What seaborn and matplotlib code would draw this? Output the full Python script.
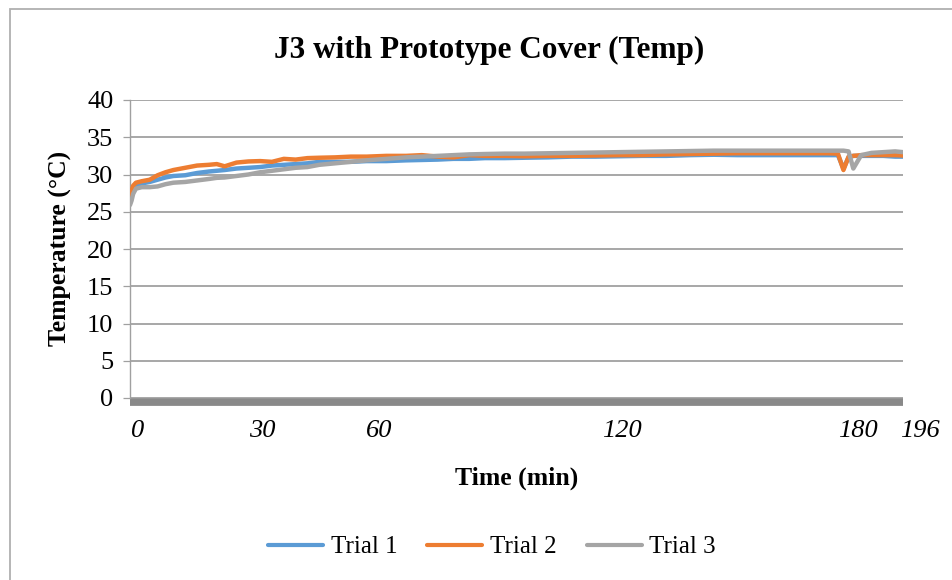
import matplotlib
matplotlib.use("Agg")
import matplotlib.pyplot as plt
import matplotlib.transforms as mtransforms
from matplotlib.patches import Rectangle
from matplotlib.lines import Line2D
import seaborn as sns
import pandas as pd

# ---------------- data ----------------
time_min = [0, 0.4, 0.8, 1.5, 3, 5, 7, 9, 11, 14, 17, 20, 22, 24, 27, 30, 33, 36, 39,
            42, 45, 48, 52, 56, 60, 65, 70, 74, 78, 82, 86, 90, 95, 100, 106, 112, 118,
            124, 130, 136, 142, 148, 154, 160, 166, 172, 177, 179.5, 180.9, 182.2, 183.4,
            185.4, 188, 191, 194, 196]

trial1 = [26.8, 27.2, 28.0, 28.6, 28.8, 29.0, 29.3, 29.6, 29.8, 29.9, 30.2, 30.4, 30.5,
          30.6, 30.8, 30.9, 31.0, 31.2, 31.3, 31.4, 31.5, 31.7, 31.7, 31.7, 31.8, 31.8,
          31.9, 31.95, 32.0, 32.1, 32.1, 32.2, 32.2, 32.25, 32.3, 32.4, 32.4, 32.45, 32.5,
          32.5, 32.6, 32.65, 32.6, 32.6, 32.6, 32.6, 32.6, 32.6, 30.8, 32.3, 32.5, 32.5,
          32.5, 32.5, 32.4, 32.4]

trial2 = [27.3, 27.8, 28.5, 28.9, 29.1, 29.3, 29.9, 30.3, 30.6, 30.9, 31.2, 31.3, 31.4,
          31.1, 31.6, 31.75, 31.8, 31.7, 32.1, 32.0, 32.2, 32.25, 32.3, 32.4, 32.4, 32.5,
          32.5, 32.6, 32.4, 32.3, 32.6, 32.5, 32.5, 32.45, 32.5, 32.5, 32.55, 32.6, 32.6,
          32.7, 32.75, 32.8, 32.85, 32.85, 32.85, 32.85, 32.85, 32.8, 30.6, 32.4, 32.5,
          32.6, 32.6, 32.6, 32.6, 32.55]

trial3 = [25.9, 26.5, 27.4, 28.1, 28.3, 28.3, 28.4, 28.7, 28.9, 29.0, 29.2, 29.4, 29.55,
          29.6, 29.8, 30.0, 30.3, 30.5, 30.7, 30.9, 31.0, 31.3, 31.5, 31.7, 31.9, 32.1,
          32.3, 32.4, 32.5, 32.6, 32.7, 32.75, 32.8, 32.8, 32.85, 32.9, 32.95, 33.0, 33.05,
          33.1, 33.15, 33.2, 33.2, 33.2, 33.2, 33.2, 33.2, 33.2, 33.2, 33.1, 30.8, 32.6,
          32.9, 33.0, 33.1, 33.0]

series_names = ["Trial 1", "Trial 2", "Trial 3"]
series_colors = ["#5B9BD5", "#ED7D31", "#A5A5A5"]

x_tick_values = [0, 30, 60, 120, 180, 196]
x_tick_labels = ["0", "30", "60", "120", "180", "196"]
y_ticks = [0, 5, 10, 15, 20, 25, 30, 35, 40]

title = "J3 with Prototype Cover (Temp)"
x_title = "Time (min)"
y_title = "Temperature (°C)"

# ---------------- table ----------------
frames = []
for name, vals in zip(series_names, [trial1, trial2, trial3]):
    frames.append(pd.DataFrame({"Time": time_min, "Temp": vals, "Series": name}))
df = pd.concat(frames, ignore_index=True)

# ---------------- style ----------------
sns.set_theme(style="white")
plt.rcParams["font.family"] = ["Liberation Serif", "DejaVu Serif"]
plt.rcParams["text.color"] = "black"
plt.rcParams["axes.labelcolor"] = "black"
plt.rcParams["xtick.color"] = "black"
plt.rcParams["ytick.color"] = "black"

W, H = 953, 580
fig = plt.figure(figsize=(W / 100, H / 100), dpi=100)
fig.patch.set_facecolor("white")
ax = fig.add_axes([130 / W, 1 - 398 / H, (903 - 130) / W, (398 - 100) / H])

sns.lineplot(data=df, x="Time", y="Temp", hue="Series", hue_order=series_names,
             palette=dict(zip(series_names, series_colors)), linewidth=3.2,
             sort=False, estimator=None, legend=False, ax=ax, zorder=3)
for ln in ax.get_lines():
    ln.set_solid_capstyle("round")
    ln.set_solid_joinstyle("round")

ax.set_xlim(0, 196)
ax.set_ylim(0, 40)
ax.set_yticks(y_ticks)
ax.set_yticklabels([str(v) for v in y_ticks], fontsize=19, color="black")
ax.yaxis.grid(True, color="#A0A0A0", linewidth=1.3)
ax.xaxis.grid(False)
ax.set_axisbelow(True)

for s in ["top", "right", "bottom"]:
    ax.spines[s].set_visible(False)
ax.spines["left"].set_color("#A0A0A0")
ax.spines["left"].set_linewidth(1.0)

ax.tick_params(axis="y", which="major", length=5, width=0.9, color="#A0A0A0",
               pad=7, left=True, labelcolor="black")

# thick grey base bar at zero
off = mtransforms.ScaledTranslation(0, -3.8 / 100, fig.dpi_scale_trans)
ax.plot([0, 1], [0, 0], color="#898989", linewidth=5.6, solid_capstyle="butt",
        transform=ax.get_yaxis_transform() + off, clip_on=False, zorder=2)

# x tick labels (italic, shifted right like the reference)
ax.set_xticks(x_tick_values)
ax.set_xticklabels(x_tick_labels, fontsize=19, fontstyle="italic", color="black")
ax.tick_params(axis="x", length=0, pad=16, labelcolor="black")
x_shifts = [8, 14, 13, 19, 18, 17]
for lab, dx in zip(ax.get_xticklabels(), x_shifts):
    lab.set_transform(lab.get_transform() +
                      mtransforms.ScaledTranslation(dx / 100, 0, fig.dpi_scale_trans))

ax.set_xlabel("")
ax.set_ylabel("")
fig.text(517 / W, 1 - 478 / H, x_title, ha="center", va="center",
         fontsize=18.5, fontweight="bold", color="black")
fig.text(60 / W, 1 - 248 / H, y_title, ha="center", va="center", rotation=90,
         fontsize=18.5, fontweight="bold", color="black")
fig.text(489 / W, 1 - 50 / H, title, ha="center", va="center",
         fontsize=22.5, fontweight="bold", color="black")

handles = [Line2D([0], [0], color=c, lw=3.0, solid_capstyle="round") for c in series_colors]
leg = fig.legend(handles, series_names, loc="center", bbox_to_anchor=(492 / W, 1 - 547 / H),
                 ncol=3, frameon=False, fontsize=18, handlelength=2.2, handletextpad=0.3,
                 columnspacing=1.2)
for t in leg.get_texts():
    t.set_color("black")

# chart-area border
fig.patches.append(Rectangle((10 / W, -0.1), 2, 0.1 + (1 - 9 / H), transform=fig.transFigure,
                             fill=False, edgecolor="#B0B0B0", linewidth=1.3))

fig.savefig("out.png", dpi=100, facecolor="white")
